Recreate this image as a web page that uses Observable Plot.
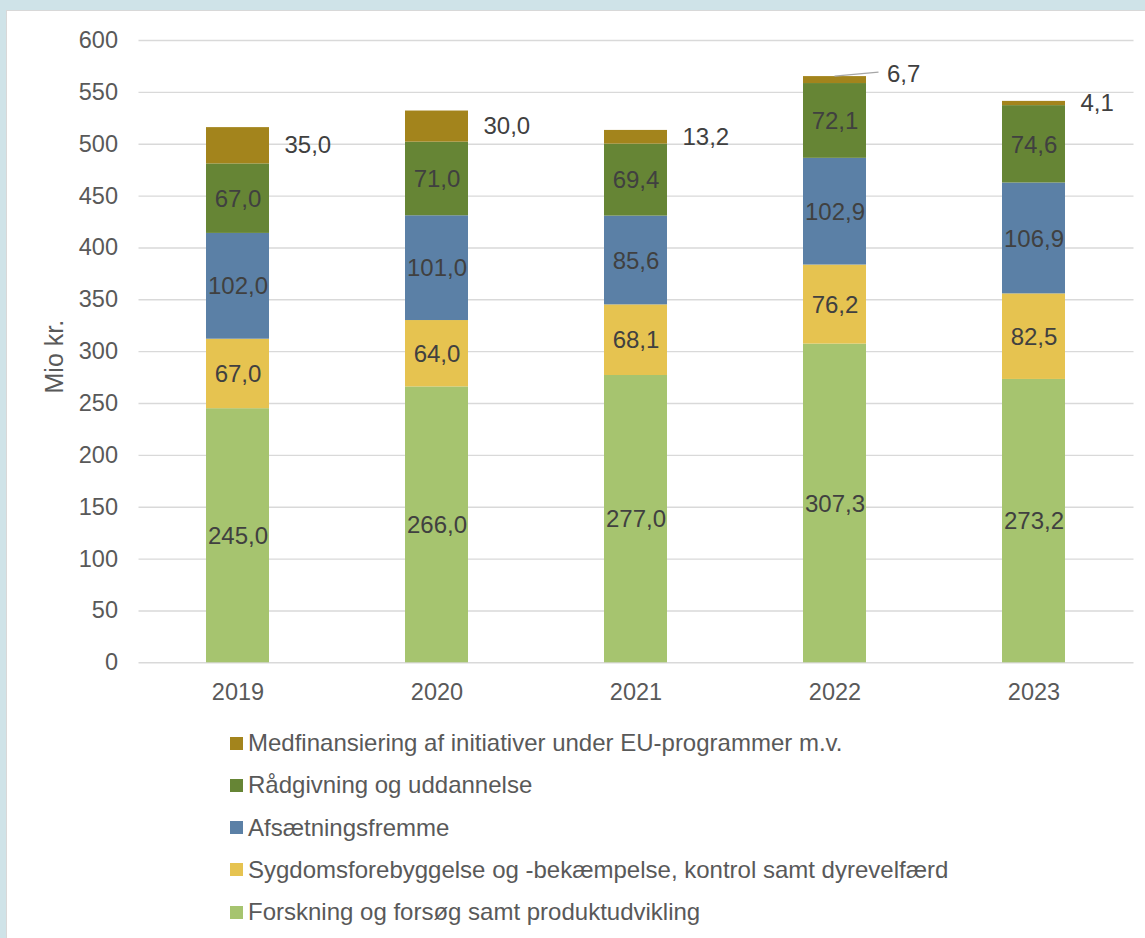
<!DOCTYPE html>
<html>
<head>
<meta charset="utf-8">
<script src="https://cdn.jsdelivr.net/npm/d3@7"></script>
<script src="https://cdn.jsdelivr.net/npm/@observablehq/plot@0.6"></script>
<style>
  html, body { margin: 0; padding: 0; }
  body { background: #cfe3e8; width: 1145px; height: 938px; overflow: hidden; position: relative;
         font-family: "Liberation Sans", Arial, sans-serif; }
  #panel { position: absolute; left: 6px; top: 10px; width: 1139px; height: 928px; background: #fff;
           border-left: 1px solid #d8d8d8; border-top: 1px solid #d8d8d8; box-sizing: border-box; }
  #chart { position: absolute; left: 0; top: 0; }
  #legend { position: absolute; left: 230px; top: 0; }
  .item { position: absolute; left: 0; white-space: nowrap; display: flex; align-items: center;
          font-size: 24px; color: #595959; height: 30px; }
  .sw { width: 13px; height: 13px; margin-right: 5px; flex: none; }
</style>
</head>
<body>
<div id="panel"><div id="chart"></div></div>
<div id="legend"></div>
<script>
const years = ["2019", "2020", "2021", "2022", "2023"];
const seriesNames = [
  "Forskning og forsøg samt produktudvikling",
  "Sygdomsforebyggelse og -bekæmpelse, kontrol samt dyrevelfærd",
  "Afsætningsfremme",
  "Rådgivning og uddannelse",
  "Medfinansiering af initiativer under EU-programmer m.v."
];
const forskning   = [245.0, 266.0, 277.0, 307.3, 273.2];
const sygdom      = [67.0, 64.0, 68.1, 76.2, 82.5];
const afsaetning  = [102.0, 101.0, 85.6, 102.9, 106.9];
const raadgivning = [67.0, 71.0, 69.4, 72.1, 74.6];
const medfin      = [35.0, 30.0, 13.2, 6.7, 4.1];
const seriesValues = [forskning, sygdom, afsaetning, raadgivning, medfin];
const seriesColors = ["#a6c46f", "#e6c350", "#5b80a6", "#668535", "#a3841c"];
const yTicks = [0, 50, 100, 150, 200, 250, 300, 350, 400, 450, 500, 550, 600];
const yLabel = "Mio kr.";
const topSeries = seriesNames[seriesNames.length - 1];
const leaderYear = "2022";

const rows = seriesValues.flatMap((vals, i) =>
  years.map((year, j) => ({year, series: seriesNames[i], value: vals[j]})));
const fmt = v => v.toFixed(1).replace(".", ",");
const stackOpts = {x: "year", y: "value", z: "series", order: seriesNames};

const leaderMark = (index, scales) => {
  const ns = "http://www.w3.org/2000/svg";
  const j = years.indexOf(leaderYear);
  const total = seriesValues.reduce((s, v) => s + v[j], 0);
  const bw = scales.x.bandwidth ? scales.x.bandwidth() : 63;
  const x0 = scales.x(leaderYear) + bw / 2;
  const y0 = scales.y(total);
  const g = document.createElementNS(ns, "g");
  const line = document.createElementNS(ns, "line");
  line.setAttribute("x1", x0);
  line.setAttribute("y1", y0);
  line.setAttribute("x2", x0 + 44);
  line.setAttribute("y2", y0 - 4);
  line.setAttribute("stroke", "#a6a6a6");
  line.setAttribute("stroke-width", 1.3);
  g.appendChild(line);
  return g;
};

const chart = Plot.plot({
  width: 1138,
  height: 700,
  marginLeft: 131.5,
  marginRight: 11.5,
  marginTop: 29,
  marginBottom: 48.7,
  style: {fontFamily: "'Liberation Sans', Arial, sans-serif", fontSize: "23.5px", color: "#595959", background: "transparent"},
  x: {domain: years, paddingInner: 0.683, paddingOuter: 0.3415, label: null},
  y: {domain: [0, 600], label: null},
  color: {domain: seriesNames, range: seriesColors},
  marks: [
    Plot.gridY(yTicks, {stroke: "#d9d9d9", strokeOpacity: 1, strokeWidth: 1.4}),
    Plot.axisY(yTicks, {tickSize: 0, tickPadding: 21, label: null, fill: "#595959"}),
    Plot.axisX({tickSize: 0, tickPadding: 21, label: null, fill: "#595959"}),
    Plot.barY(rows, Plot.stackY({...stackOpts, fill: "series"})),
    Plot.text(rows, Plot.stackY({...stackOpts,
      text: d => d.series === topSeries ? null : fmt(d.value),
      fill: "#404040", fontSize: 24, dy: 0.5})),
    Plot.text(rows, Plot.stackY({...stackOpts,
      text: d => d.series === topSeries && d.year !== leaderYear ? fmt(d.value) : null,
      fill: "#404040", fontSize: 24, textAnchor: "start", dx: 46.5})),
    Plot.text(rows, Plot.stackY({...stackOpts,
      text: d => d.series === topSeries && d.year === leaderYear ? fmt(d.value) : null,
      fill: "#404040", fontSize: 24, textAnchor: "start", dx: 52, dy: -5.5})),
    leaderMark,
    Plot.text([yLabel], {frameAnchor: "left", text: d => d, rotate: -90, textAnchor: "middle",
      lineAnchor: "middle", dx: -84.5, dy: 5, fill: "#595959", fontSize: 25})
  ]
});
document.getElementById("chart").appendChild(chart);

const legend = document.getElementById("legend");
const legendOrder = seriesNames.slice().reverse();
legendOrder.forEach((name, k) => {
  const item = document.createElement("div");
  item.className = "item";
  item.style.top = (743 + 42.3 * k - 15) + "px";
  const sw = document.createElement("span");
  sw.className = "sw";
  sw.style.background = seriesColors[seriesNames.indexOf(name)];
  const t = document.createElement("span");
  t.textContent = name;
  item.appendChild(sw);
  item.appendChild(t);
  legend.appendChild(item);
});
</script>
</body>
</html>
